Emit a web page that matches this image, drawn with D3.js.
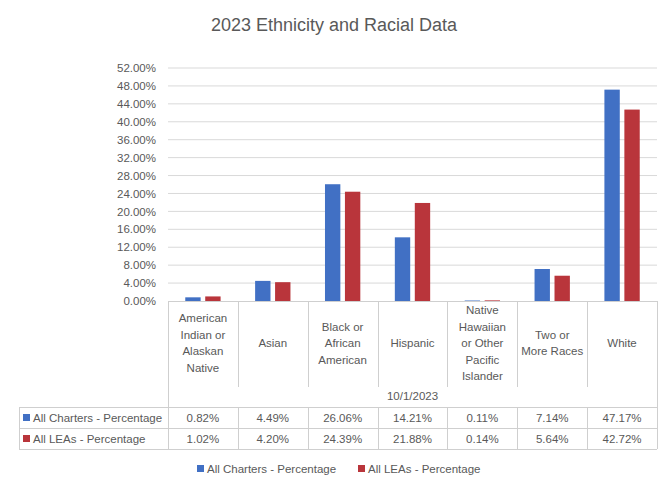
<!DOCTYPE html>
<html>
<head>
<meta charset="utf-8">
<script src="https://cdn.jsdelivr.net/npm/d3@7"></script>
<style>
  body { margin: 0; background: #fff; }
  text { font-family: "Liberation Sans", Arial, sans-serif; fill: #595959; }
</style>
</head>
<body>
<div id="chart"></div>
<script>
// data
const categories = [
  ["American", "Indian or", "Alaskan", "Native"],
  ["Asian"],
  ["Black or", "African", "American"],
  ["Hispanic"],
  ["Native", "Hawaiian", "or Other", "Pacific", "Islander"],
  ["Two or", "More Races"],
  ["White"]
];
const categoryKeys = categories.map(d => d.join(" "));
const seriesNames = ["All Charters - Percentage", "All LEAs - Percentage"];
const seriesColors = ["#4170C4", "#B9353B"];
const chartersValues = [0.0082, 0.0449, 0.2606, 0.1421, 0.0011, 0.0714, 0.4717];
const leasValues = [0.0102, 0.0420, 0.2439, 0.2188, 0.0014, 0.0564, 0.4272];
const yTicks = d3.range(0, 0.5201, 0.04);
const dateLabel = "10/1/2023";
const title = "2023 Ethnicity and Racial Data";

const width = 672, height = 487;
const plotLeft = 168, plotRight = 657, plotTop = 68, plotBottom = 301;
const tableLeft = 19;
const grid = "#d9d9d9", border = "#cfcfcf";

const svg = d3.select("#chart").append("svg")
  .attr("width", width)
  .attr("height", height);

svg.append("text")
  .attr("x", 334).attr("y", 31)
  .attr("text-anchor", "middle")
  .style("font-size", "18px")
  .text(title);

let x = d3.scaleBand().domain(categoryKeys).range([plotLeft, plotRight]);
let xInner = d3.scaleBand().domain(seriesNames).range([0, x.bandwidth()])
  .paddingInner(0.23).paddingOuter(0.865);
let y = d3.scaleLinear().domain([0, 0.52]).range([plotBottom, plotTop]);

// gridlines
svg.append("g")
  .selectAll("line")
  .data(yTicks.slice(1))
  .join("line")
  .attr("x1", plotLeft).attr("x2", plotRight)
  .attr("y1", d => y(d)).attr("y2", d => y(d))
  .attr("stroke", grid).attr("stroke-width", 1);

// y axis labels
let yAxis = svg.append("g")
  .attr("transform", `translate(${plotLeft},0)`)
  .call(d3.axisLeft(y).tickValues(yTicks).tickFormat(d3.format(".2%")).tickSize(0).tickPadding(12));
yAxis.select(".domain").remove();
yAxis.selectAll("text")
  .style("font-size", "11.5px")
  .style("font-family", "Liberation Sans, Arial, sans-serif")
  .attr("fill", "#595959");

// bars
let series = [chartersValues, leasValues];
let groups = svg.append("g")
  .selectAll("g")
  .data(categoryKeys)
  .join("g")
  .attr("transform", d => `translate(${x(d)},0)`);

groups.selectAll("rect")
  .data((d, i) => seriesNames.map((s, j) => ({ s: s, v: series[j][i], j: j })))
  .join("rect")
  .attr("x", d => xInner(d.s))
  .attr("width", xInner.bandwidth())
  .attr("y", d => y(d.v))
  .attr("height", d => y(0) - y(d.v))
  .attr("fill", d => seriesColors[d.j]);

// data table
const headerBottom = 387, dateRowBottom = 407, rowH = 21;
let table = svg.append("g").attr("stroke", border).attr("fill", "none");

// axis line / header top
table.append("line")
  .attr("x1", plotLeft).attr("x2", plotRight)
  .attr("y1", plotBottom + 0.5).attr("y2", plotBottom + 0.5);

// vertical dividers in header
table.selectAll(".hdiv")
  .data(categoryKeys.slice(1))
  .join("line")
  .attr("class", "hdiv")
  .attr("x1", d => Math.round(x(d)) + 0.5).attr("x2", d => Math.round(x(d)) + 0.5)
  .attr("y1", plotBottom).attr("y2", headerBottom);

// outer edges of header
table.append("line")
  .attr("x1", plotLeft + 0.5).attr("x2", plotLeft + 0.5)
  .attr("y1", plotBottom).attr("y2", dateRowBottom + 2 * rowH);
table.append("line")
  .attr("x1", plotRight + 0.5).attr("x2", plotRight + 0.5)
  .attr("y1", plotBottom).attr("y2", dateRowBottom + 2 * rowH);

// row lines
table.selectAll(".hrow")
  .data([0, 1, 2])
  .join("line")
  .attr("class", "hrow")
  .attr("x1", tableLeft).attr("x2", plotRight)
  .attr("y1", d => dateRowBottom + d * rowH + 0.5).attr("y2", d => dateRowBottom + d * rowH + 0.5);

table.append("line")
  .attr("x1", tableLeft + 0.5).attr("x2", tableLeft + 0.5)
  .attr("y1", dateRowBottom).attr("y2", dateRowBottom + 2 * rowH);

// vertical dividers in data rows
table.selectAll(".rdiv")
  .data(categoryKeys.slice(1))
  .join("line")
  .attr("class", "rdiv")
  .attr("x1", d => Math.round(x(d)) + 0.5).attr("x2", d => Math.round(x(d)) + 0.5)
  .attr("y1", dateRowBottom).attr("y2", dateRowBottom + 2 * rowH);

// category labels
let catLabels = svg.append("g")
  .selectAll("text")
  .data(categories)
  .join("text")
  .attr("text-anchor", "middle")
  .style("font-size", "11.5px")
  .attr("x", (d, i) => x(categoryKeys[i]) + x.bandwidth() / 2)
  .attr("y", d => 347 - (d.length - 1) * 16.5 / 2);

catLabels.selectAll("tspan")
  .data(d => d)
  .join("tspan")
  .attr("x", function () { return this.parentNode.getAttribute("x"); })
  .attr("dy", (d, i) => i === 0 ? 0 : 16.5)
  .text(d => d);

svg.append("text")
  .attr("x", (plotLeft + plotRight) / 2)
  .attr("y", 400)
  .attr("text-anchor", "middle")
  .style("font-size", "11.5px")
  .text(dateLabel);

// row values
let fmt = d3.format(".2%");
series.forEach((vals, j) => {
  let rowY = dateRowBottom + j * rowH + 15;
  svg.append("rect")
    .attr("x", 23).attr("y", rowY - 8)
    .attr("width", 7).attr("height", 7)
    .attr("fill", seriesColors[j]);
  svg.append("text")
    .attr("x", 33).attr("y", rowY)
    .style("font-size", "11.5px")
    .text(seriesNames[j]);
  svg.append("g")
    .selectAll("text")
    .data(vals)
    .join("text")
    .attr("text-anchor", "middle")
    .attr("x", (d, i) => x(categoryKeys[i]) + x.bandwidth() / 2)
    .attr("y", rowY)
    .style("font-size", "11.5px")
    .text(d => fmt(d));
});

// legend
const legendX = [197, 358];
let legend = svg.append("g")
  .selectAll("g")
  .data(seriesNames)
  .join("g")
  .attr("transform", (d, i) => `translate(${legendX[i]},473)`);
legend.append("rect")
  .attr("x", 0).attr("y", -8)
  .attr("width", 7).attr("height", 7)
  .attr("fill", (d, i) => seriesColors[i]);
legend.append("text")
  .attr("x", 10).attr("y", 0)
  .style("font-size", "11.5px")
  .text(d => d);
</script>
</body>
</html>
